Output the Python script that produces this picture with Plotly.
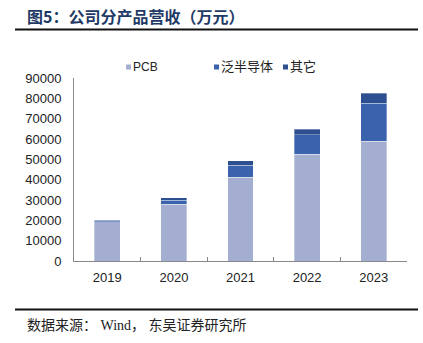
import plotly.graph_objects as go

years = ["2019", "2020", "2021", "2022", "2023"]
pcb = [19200, 28000, 41300, 52600, 58900]
semi = [600, 1900, 5900, 9400, 18700]
other = [300, 1100, 2000, 2900, 4900]
series_names = ["PCB", "泛半导体", "其它"]
colors = ["#A4AED0", "#3B63AD", "#2D4F8F"]
y_ticks = [0, 10000, 20000, 30000, 40000, 50000, 60000, 70000, 80000, 90000]

W, H = 423, 343
L, R, T, B = 74, 16, 78, 82

fig = go.Figure()
for name, vals, col in zip(series_names, [pcb, semi, other], colors):
    fig.add_trace(go.Bar(
        x=years, y=vals, name=name,
        marker=dict(color=col, line=dict(color="rgba(255,255,255,0.55)", width=0.6)),
        showlegend=False,
    ))

pw = W - L - R
ph = H - T - B
def px2x(px):
    return (px - L) / pw
def py2y(py):
    return (H - B - py) / ph

fig.update_layout(
    width=W, height=H,
    margin=dict(l=L, r=R, t=T, b=B),
    paper_bgcolor="white", plot_bgcolor="white",
    barmode="stack", bargap=0.61, showlegend=False,
    font=dict(family="Liberation Sans, Noto Sans CJK SC", size=13, color="#222"),
    xaxis=dict(
        showline=True, linecolor="#888", linewidth=1,
        ticks="inside", tickson="boundaries", ticklen=4, tickcolor="#888",
        showgrid=False, tickfont=dict(size=13, color="#222"), ticklabelstandoff=4,
    ),
    yaxis=dict(
        range=[0, 90000], tickvals=y_ticks, ticktext=[str(v) for v in y_ticks],
        showline=True, linecolor="#888", linewidth=1, showgrid=False,
        ticks="", tickfont=dict(size=13, color="#222"), zeroline=False,
        ticklabelstandoff=9,
    ),
)

# Legend (swatches + labels)
legend_x = [126, 214, 283]
legend_fonts = [12, 13, 13]
for name, col, lx, fs in zip(series_names, colors, legend_x, legend_fonts):
    fig.add_shape(type="rect", xref="paper", yref="paper",
                  x0=px2x(lx), x1=px2x(lx + 5), y0=py2y(64.5), y1=py2y(69.5),
                  fillcolor=col, line=dict(width=0))
    fig.add_annotation(
        text=name, xref="paper", yref="paper",
        x=px2x(lx + 5), y=py2y(67), xanchor="left", yanchor="middle", showarrow=False,
        font=dict(family="Liberation Sans, Noto Sans CJK SC", size=fs, color="#222"),
    )

# Title and footer
fig.add_annotation(
    text="<b>图5：公司分产品营收（万元）</b>", xref="paper", yref="paper",
    x=px2x(25), y=py2y(16), xanchor="left", yanchor="middle", showarrow=False,
    font=dict(family="Noto Sans CJK SC", size=16, color="#1F3A66"),
)
fig.add_annotation(
    text="数据来源：\u00a0Wind，\u00a0东吴证券研究所", xref="paper", yref="paper",
    x=px2x(25), y=py2y(325), xanchor="left", yanchor="middle", showarrow=False,
    font=dict(family="Liberation Serif, Noto Sans CJK SC", size=14, color="#222"),
)
for yy in [29.5, 309.5]:
    fig.add_shape(type="line", xref="paper", yref="paper",
                  x0=px2x(15), x1=px2x(418), y0=py2y(yy), y1=py2y(yy),
                  line=dict(color="#111", width=2))

fig.write_html("out.html")
